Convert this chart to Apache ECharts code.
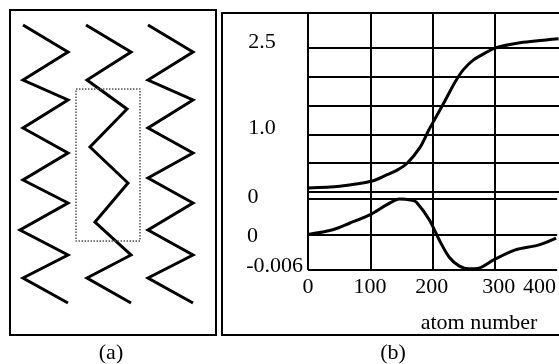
<!DOCTYPE html>
<html style="height: 100%">
<head>
<meta charset="utf-8">
</head>
<body style="height: 100%; margin: 0">
<div id="container" style="width: 559px; height: 364px"></div>
<script type="text/javascript" src="https://cdn.jsdelivr.net/npm/echarts@6/dist/echarts.min.js"></script>
<script type="text/javascript">
// panel (a): three zigzag chains, coordinates inside the box
var zigX1 = [13, 58, 13, 58, 13, 58, 13, 58, 10, 58, 13, 58];
var zigY1 = [15, 42, 70, 90, 118, 143, 170, 193, 220, 245, 268, 293];
var zigX2 = [76, 121, 77, 117, 80, 118, 85, 121, 77, 121];
var zigY2 = [15, 42, 70, 99, 137, 173, 212, 245, 268, 293];
var zigX3 = [138, 183, 138, 183, 138, 183, 138, 183, 138, 183, 138, 183];
var zigY3 = [15, 42, 70, 90, 118, 143, 168, 193, 220, 245, 268, 293];
var boxX = [66, 130, 130, 66, 66];
var boxY = [79, 79, 231, 231, 79];

// panel (b): upper and lower curves vs atom number
var atomTop = [0, 51, 103, 127, 143, 159, 180, 194, 209, 223, 236, 249, 265, 287, 300, 340, 402];
var valTop = [0.07, 0.10, 0.19, 0.30, 0.38, 0.50, 0.78, 1.08, 1.37, 1.65, 1.91, 2.12, 2.29, 2.43, 2.50, 2.59, 2.66];
var atomBot = [0, 40, 67, 103, 127, 148, 168, 175, 196, 212, 228, 244, 260, 276, 300, 335, 372, 401];
var valBot = [0, 0.0008, 0.0019, 0.0035, 0.005, 0.006, 0.0058, 0.0055, 0.0025, -0.0009, -0.0038, -0.0053, -0.0058, -0.0057, -0.0043, -0.0026, -0.0018, -0.0006];
var xTicks = [0, 100, 200, 300, 400];

var pair = function (xs, ys) {
    var res = [];
    for (var i = 0; i < xs.length; i++) res.push([xs[i], ys[i]]);
    return res;
};

var font = 'Liberation Serif';
var fs = 22;
var blackLine = {color: '#000', width: 2};
var hidden = {show: false};
var edge = {show: true, onZero: false, lineStyle: blackLine};
var xMax = 402.7;

var dom = document.getElementById('container');
var myChart = echarts.init(dom);
var option = {
    animation: false,
    backgroundColor: '#fff',
    title: [
        {text: '(a)', left: 106, top: 337, textAlign: 'center',
         textStyle: {fontFamily: font, fontSize: fs, fontWeight: 'normal', color: '#000'}},
        {text: '(b)', left: 388, top: 337, textAlign: 'center',
         textStyle: {fontFamily: font, fontSize: fs, fontWeight: 'normal', color: '#000'}},
        {text: 'atom number', left: 474, top: 307, textAlign: 'center',
         textStyle: {fontFamily: font, fontSize: fs, fontWeight: 'normal', color: '#000'}}
    ],
    grid: [
        {left: 10, top: 10, width: 206, height: 325, show: true, borderColor: '#000', borderWidth: 2},
        {left: 222, top: 13, width: 337, height: 322},
        {left: 308, top: 13, width: 187, height: 257},
        {left: 308, top: 48, width: 251, height: 144},
        {left: 308, top: 199, width: 251, height: 71}
    ],
    xAxis: [
        {gridIndex: 0, type: 'value', min: 0, max: 206, show: false},
        {gridIndex: 1, type: 'value', min: 0, max: 1, position: 'top',
         axisLine: edge, axisTick: hidden, axisLabel: hidden, splitLine: hidden},
        {gridIndex: 1, type: 'value', min: 0, max: 1, position: 'bottom',
         axisLine: edge, axisTick: hidden, axisLabel: hidden, splitLine: hidden},
        {gridIndex: 2, type: 'value', min: 0, max: 300, interval: 100,
         axisLine: hidden, axisTick: hidden, axisLabel: hidden,
         splitLine: {show: true, lineStyle: blackLine}},
        {gridIndex: 3, type: 'value', min: 0, max: xMax, interval: 100,
         axisLine: hidden, axisTick: hidden, axisLabel: hidden, splitLine: hidden},
        {gridIndex: 4, type: 'value', min: 0, max: xMax, interval: 100,
         axisLine: hidden, axisTick: hidden, splitLine: hidden,
         axisLabel: {
             margin: 6, color: '#000', fontFamily: font, fontSize: fs,
             showMaxLabel: false,
             formatter: function (v) {
                 if (v === 300) return '{r|300}';
                 if (v === 400) return '{l|400}';
                 if (xTicks.indexOf(v) >= 0) return String(v);
                 return '';
             },
             rich: {
                 r: {fontFamily: font, fontSize: fs, color: '#000', padding: [0, 0, 0, 10]},
                 l: {fontFamily: font, fontSize: fs, color: '#000', padding: [0, 32, 0, 0]}
             }
         }}
    ],
    yAxis: [
        {gridIndex: 0, type: 'value', min: 0, max: 325, inverse: true, show: false},
        {gridIndex: 1, type: 'value', min: 0, max: 1, position: 'left',
         axisLine: edge, axisTick: hidden, axisLabel: hidden, splitLine: hidden},
        {gridIndex: 2, type: 'value', min: 0, max: 1, show: false},
        {gridIndex: 3, type: 'value', min: 0, max: 2.5, interval: 0.5,
         axisLine: hidden, axisTick: hidden,
         splitLine: {show: true, lineStyle: blackLine},
         axisLabel: {
             margin: 46, align: 'center', color: '#000', fontFamily: font, fontSize: fs,
             formatter: function (v) {
                 if (v === 2.5) return '{u|2.5}';
                 if (v === 1) return '{u|1.0}';
                 if (v === 0) return '{z|0}';
                 return '';
             },
             rich: {
                 u: {fontFamily: font, fontSize: fs, color: '#000', padding: [0, 0, 12, 0]},
                 z: {fontFamily: font, fontSize: fs, color: '#000', padding: [10, 18, 0, 0]}
             }
         }},
        {gridIndex: 4, type: 'value', min: -0.006, max: 0.006, interval: 0.006,
         axisLine: hidden, axisTick: hidden,
         splitLine: {show: true, lineStyle: blackLine},
         axisLabel: {
             margin: 5, align: 'right', color: '#000', fontFamily: font, fontSize: fs,
             formatter: function (v) {
                 if (v < -0.005) return '{m|-0.006}';
                 if (Math.abs(v) < 1e-9) return '{z|0}';
                 return '';
             },
             rich: {
                 m: {fontFamily: font, fontSize: fs, color: '#000', padding: [0, 0, 8, 0]},
                 z: {fontFamily: font, fontSize: fs, color: '#000', padding: [4, 45, 0, 0]}
             }
         }}
    ],
    series: [
        {type: 'line', xAxisIndex: 0, yAxisIndex: 0, data: pair(zigX1, zigY1), symbol: 'none',
         lineStyle: {color: '#000', width: 3, join: 'miter'}},
        {type: 'line', xAxisIndex: 0, yAxisIndex: 0, data: pair(zigX2, zigY2), symbol: 'none',
         lineStyle: {color: '#000', width: 3, join: 'miter'}},
        {type: 'line', xAxisIndex: 0, yAxisIndex: 0, data: pair(zigX3, zigY3), symbol: 'none',
         lineStyle: {color: '#000', width: 3, join: 'miter'}},
        {type: 'line', xAxisIndex: 0, yAxisIndex: 0, data: pair(boxX, boxY), symbol: 'none',
         lineStyle: {color: '#555', width: 1.5, type: 'dotted'}},
        {type: 'line', xAxisIndex: 4, yAxisIndex: 3, data: pair(atomTop, valTop), symbol: 'none',
         smooth: 0.3, clip: false, lineStyle: {color: '#000', width: 3}},
        {type: 'line', xAxisIndex: 5, yAxisIndex: 4, data: pair(atomBot, valBot), symbol: 'none',
         smooth: 0.3, clip: false, lineStyle: {color: '#000', width: 3}}
    ]
};
myChart.setOption(option);
</script>
</body>
</html>
